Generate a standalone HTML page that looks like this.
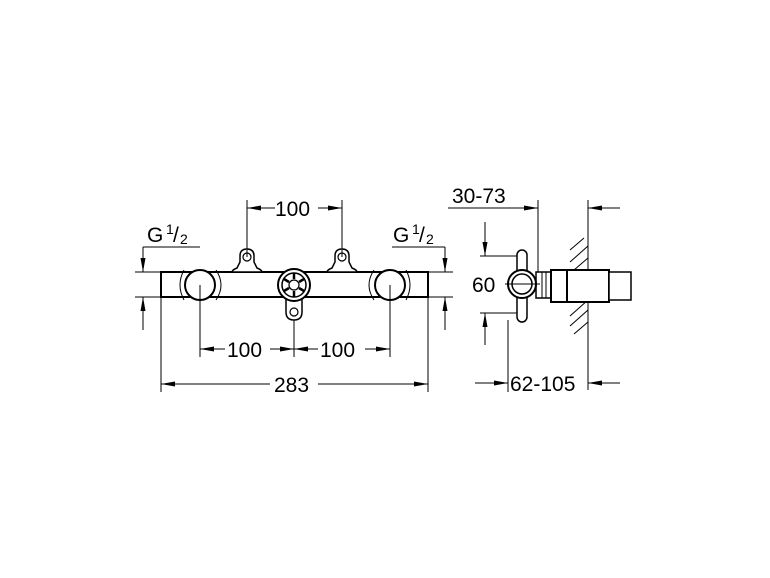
<!DOCTYPE html>
<html><head><style>body{margin:0;background:#fff}svg{display:block}text{font-family:"Liberation Sans",sans-serif;font-size:21px;fill:#000}</style></head>
<body>
<svg width="770" height="578" viewBox="0 0 770 578" xmlns="http://www.w3.org/2000/svg">
<defs>
<marker id="a" viewBox="0 0 14 5" refX="14" refY="2.5" markerWidth="14" markerHeight="5" markerUnits="userSpaceOnUse" orient="auto"><path d="M0,0L14,2.5L0,5z" fill="#000"/></marker>
</defs>
<g stroke="#000" fill="none" stroke-width="1">
<line x1="247" y1="200" x2="247" y2="250"/>
<line x1="342" y1="200" x2="342" y2="250"/>
<line x1="275" y1="208" x2="247" y2="208" marker-end="url(#a)"/>
<line x1="318" y1="208" x2="342" y2="208" marker-end="url(#a)"/>
<line x1="143" y1="247" x2="200" y2="247"/>
<line x1="392" y1="247" x2="445" y2="247"/>
<line x1="135" y1="272" x2="161" y2="272"/>
<line x1="135" y1="297" x2="161" y2="297"/>
<line x1="428" y1="272" x2="453" y2="272"/>
<line x1="428" y1="297" x2="453" y2="297"/>
<line x1="143" y1="247" x2="143" y2="272" marker-end="url(#a)"/>
<line x1="143" y1="330" x2="143" y2="297" marker-end="url(#a)"/>
<line x1="445" y1="247" x2="445" y2="272" marker-end="url(#a)"/>
<line x1="445" y1="330" x2="445" y2="297" marker-end="url(#a)"/>
<line x1="200" y1="285" x2="200" y2="357"/>
<line x1="294" y1="310" x2="294" y2="357"/>
<line x1="390" y1="285" x2="390" y2="357"/>
<line x1="225" y1="349" x2="200" y2="349" marker-end="url(#a)"/>
<line x1="270" y1="349" x2="294" y2="349" marker-end="url(#a)"/>
<line x1="318" y1="349" x2="294" y2="349" marker-end="url(#a)"/>
<line x1="365" y1="349" x2="390" y2="349" marker-end="url(#a)"/>
<line x1="161" y1="297" x2="161" y2="392"/>
<line x1="428" y1="297" x2="428" y2="392"/>
<line x1="270" y1="384" x2="161" y2="384" marker-end="url(#a)"/>
<line x1="318" y1="384" x2="428" y2="384" marker-end="url(#a)"/>
</g>
<g stroke="#000" fill="#fff">
<rect x="161" y="272" width="267" height="25" stroke-width="2"/>
<path d="M240,262 v-6 q0,-7 7,-7 q7,0 7,7 v6 l3,6 q5,2 5,4 h-30 q0,-2 5,-4z" stroke-width="1.5"/>
<circle cx="247" cy="257" r="4" stroke-width="1.2"/>
<path d="M335,262 v-6 q0,-7 7,-7 q7,0 7,7 v6 l3,6 q5,2 5,4 h-30 q0,-2 5,-4z" stroke-width="1.5"/>
<circle cx="342" cy="257" r="4" stroke-width="1.2"/>
<path d="M184,270 q-8,15 0,30 M216,270 q10,15 0,30" fill="none" stroke-width="1"/>
<circle cx="200" cy="285" r="15" stroke-width="2"/>
<path d="M374,270 q-10,15 0,30 M406,270 q8,15 0,30" fill="none" stroke-width="1"/>
<circle cx="390" cy="285" r="15" stroke-width="2"/>
<path d="M286,298 v14 q0,8 8,8 q8,0 8,-8 v-14z" stroke-width="1.5"/>
<circle cx="294" cy="312" r="4" stroke-width="1.2"/>
<circle cx="294" cy="285" r="16" stroke-width="2"/>
<circle cx="294" cy="285" r="12" stroke-width="1.5"/>
<circle cx="294" cy="285" r="5" stroke-width="1.2"/>
<g stroke-width="2.5"><line x1="294" y1="273" x2="294" y2="279"/><line x1="294" y1="291" x2="294" y2="297"/><line x1="284" y1="279" x2="289" y2="282"/><line x1="304" y1="279" x2="299" y2="282"/><line x1="284" y1="291" x2="289" y2="288"/><line x1="304" y1="291" x2="299" y2="288"/></g>
</g>
<line x1="247" y1="250" x2="247" y2="257" stroke="#000"/>
<line x1="342" y1="250" x2="342" y2="257" stroke="#000"/>
<line x1="200" y1="285" x2="200" y2="300" stroke="#000"/>
<line x1="390" y1="285" x2="390" y2="300" stroke="#000"/>
<g stroke="#000" fill="none" stroke-width="1">
<line x1="448" y1="208" x2="538" y2="208" marker-end="url(#a)"/>
<line x1="538" y1="200" x2="538" y2="272"/>
<line x1="588" y1="200" x2="588" y2="390"/>
<line x1="620" y1="208" x2="588" y2="208" marker-end="url(#a)"/>
<line x1="485" y1="222" x2="485" y2="256" marker-end="url(#a)"/>
<line x1="485" y1="345" x2="485" y2="313" marker-end="url(#a)"/>
<line x1="480" y1="256" x2="522" y2="256"/>
<line x1="480" y1="313" x2="522" y2="313"/>
<line x1="508" y1="320" x2="508" y2="392"/>
<line x1="475" y1="383" x2="508" y2="383" marker-end="url(#a)"/>
<line x1="620" y1="383" x2="588" y2="383" marker-end="url(#a)"/>
<path d="M570,250l14,-12M570,262l18,-16M574,270l14,-12M570,316l18,-16M570,326l18,-16M574,334l14,-12"/>
</g>
<g stroke="#000" fill="#fff">
<rect x="536" y="272" width="16" height="26" stroke-width="1.5"/>
<line x1="542" y1="272" x2="542" y2="298"/><line x1="546" y1="272" x2="546" y2="298"/>
<rect x="551" y="270" width="58" height="32" stroke-width="2"/>
<line x1="567" y1="270" x2="567" y2="302" stroke-width="2"/>
<rect x="609" y="272" width="22" height="28" stroke-width="1.5"/>
<rect x="517" y="250" width="10" height="72" rx="5" stroke-width="1.5"/>
<circle cx="522" cy="284" r="14" stroke-width="2"/>
<circle cx="522" cy="284" r="10" stroke-width="1.5"/>
</g>
<line x1="505" y1="284" x2="540" y2="284" stroke="#000"/>
<g>
<text x="275" y="216">100</text>
<text x="227" y="357">100</text>
<text x="320" y="357">100</text>
<text x="274" y="392">283</text>
<text x="147" y="242">G</text><text x="166" y="234" style="font-size:14px">1</text><text x="173" y="242">/</text><text x="180" y="244" style="font-size:14px">2</text>
<text x="393" y="242">G</text><text x="412" y="234" style="font-size:14px">1</text><text x="419" y="242">/</text><text x="426" y="244" style="font-size:14px">2</text>
<text x="452" y="203">30-73</text>
<text x="472" y="292">60</text>
<text x="510" y="391">62-105</text>
</g>
</svg>
</body></html>
